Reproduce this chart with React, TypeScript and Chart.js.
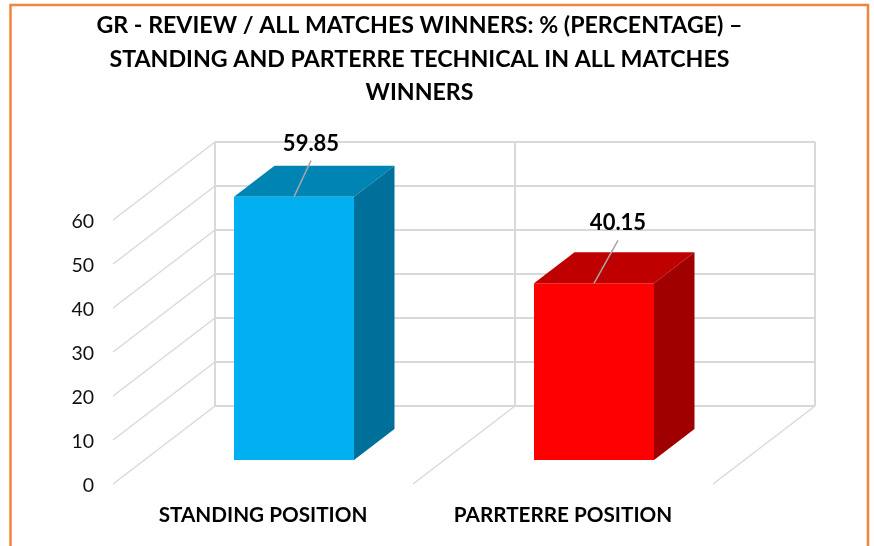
import { useEffect, useRef } from "react";
import { Chart, registerables } from "chart.js";

Chart.register(...registerables);

const titleLines = [
  "GR - REVIEW / ALL MATCHES WINNERS: % (PERCENTAGE) –",
  "STANDING AND PARTERRE TECHNICAL IN ALL MATCHES",
  "WINNERS",
];
const categories = ["STANDING POSITION", "PARRTERRE POSITION"];
const values = [59.85, 40.15];
const axisMin = 0;
const axisMax = 60;
const axisStep = 10;

const frontColors = ["#00B0F0", "#FF0000"];
const topColors = ["#0084B4", "#BF0000"];
const sideColors = ["#00709A", "#A00000"];
const labelOffsets = [
  { dx: 17, dy: -53, lx: 17, ly: -36 },
  { dx: 24, dy: -60, lx: 24, ly: -43 },
];

const FONT = "Lato, 'Open Sans', sans-serif";
const WALL_DX = 102;
const WALL_DY = -78;
const BAR_SHIFT_X = 31;
const BAR_SHIFT_Y = -24;
const BAR_DX = 40.5;
const BAR_DY = -31;
const GRID = "#D9D9D9";

const poly = (ctx: CanvasRenderingContext2D, pts: number[][], fill: string) => {
  ctx.beginPath();
  pts.forEach(([x, y], i) => (i ? ctx.lineTo(x, y) : ctx.moveTo(x, y)));
  ctx.closePath();
  ctx.fillStyle = fill;
  ctx.fill();
};

const line = (ctx: CanvasRenderingContext2D, x1: number, y1: number, x2: number, y2: number) => {
  ctx.beginPath();
  ctx.moveTo(x1, y1);
  ctx.lineTo(x2, y2);
  ctx.stroke();
};

const scene = {
  id: "scene3d",
  afterLayout(chart: any) {
    // centre the native title block over the reference's title position
    if (chart.titleBlock) {
      chart.titleBlock.left = 0;
      chart.titleBlock.right = 839;
    }
  },
  beforeDatasetsDraw(chart: any) {
    const { ctx, chartArea, scales } = chart;
    const { y: ys } = scales;
    ctx.save();
    // frame
    ctx.strokeStyle = "#F4843D";
    ctx.lineWidth = 2.5;
    ctx.strokeRect(10.5, 5, 857.5, 600);

    ctx.strokeStyle = GRID;
    const left = chartArea.left;
    const right = chartArea.right;
    const y0 = ys.getPixelForValue(axisMin);
    const yTop = ys.getPixelForValue(axisMax);
    // side wall and back wall
    ctx.lineWidth = 1.5;
    ys.ticks.forEach((t: any) => {
      const y = ys.getPixelForValue(t.value);
      line(ctx, left, y, left + WALL_DX, y + WALL_DY);
    });
    ctx.lineWidth = 2;
    ys.ticks.forEach((t: any) => {
      const y = ys.getPixelForValue(t.value) + WALL_DY;
      line(ctx, left + WALL_DX, y, right + WALL_DX, y);
    });
    const xEdges = [0, 0.5, 1].map((f) => left + (right - left) * f);
    xEdges.forEach((x) => {
      line(ctx, x + WALL_DX, yTop + WALL_DY, x + WALL_DX, y0 + WALL_DY);
    });
    // floor
    ctx.lineWidth = 1.5;
    xEdges.slice(1).forEach((x) => line(ctx, x, y0, x + WALL_DX, y0 + WALL_DY));

    // top and side faces of each bar
    chart.getDatasetMeta(0).data.forEach((b: any, i: number) => {
      const l = b.x - b.width / 2 + BAR_SHIFT_X;
      const r = b.x + b.width / 2 + BAR_SHIFT_X;
      const t = b.y + BAR_SHIFT_Y;
      const bot = b.base + BAR_SHIFT_Y;
      poly(ctx, [[l, t], [r, t], [r + BAR_DX, t + BAR_DY], [l + BAR_DX, t + BAR_DY]], topColors[i]);
      poly(ctx, [[r, t], [r + BAR_DX, t + BAR_DY], [r + BAR_DX, bot + BAR_DY], [r, bot]], sideColors[i]);
    });
    ctx.restore();
  },
  beforeDatasetDraw(chart: any) {
    chart.ctx.save();
    chart.ctx.translate(BAR_SHIFT_X, BAR_SHIFT_Y);
  },
  afterDatasetDraw(chart: any) {
    chart.ctx.restore();
  },
  afterDatasetsDraw(chart: any) {
    const { ctx } = chart;
    ctx.save();
    chart.getDatasetMeta(0).data.forEach((b: any, i: number) => {
      const cx = b.x + BAR_SHIFT_X;
      const t = b.y + BAR_SHIFT_Y;
      const o = labelOffsets[i];
      ctx.strokeStyle = "#A6A6A6";
      ctx.lineWidth = 1.5;
      line(ctx, cx, t, cx + o.lx, t + o.ly);
      ctx.fillStyle = "#000000";
      ctx.font = `bold 22px ${FONT}`;
      ctx.textAlign = "center";
      ctx.textBaseline = "middle";
      ctx.fillText(values[i].toFixed(2), cx + o.dx, t + o.dy);
    });
    ctx.restore();
  },
};

export default function App() {
  const ref = useRef<HTMLCanvasElement>(null);
  useEffect(() => {
    const chart = new Chart(ref.current!, {
      type: "bar",
      data: {
        labels: categories,
        datasets: [
          {
            data: values,
            backgroundColor: frontColors,
            barPercentage: 0.4,
            categoryPercentage: 1,
            clip: false,
          } as any,
        ],
      },
      plugins: [scene],
      options: {
        responsive: false,
        animation: false,
        layout: { padding: 0 },
        plugins: {
          legend: { display: false },
          tooltip: { enabled: false },
          title: {
            display: true,
            text: titleLines,
            color: "#000000",
            font: { family: FONT, size: 23.2, weight: "bold", lineHeight: 33.5 / 23.2 },
            padding: { top: 9, bottom: 110.5 },
          },
        },
        scales: {
          x: {
            grid: { display: false, drawTicks: false },
            border: { display: false },
            ticks: {
              color: "#000000",
              font: { family: FONT, size: 20.7, weight: "bold" },
              padding: 19,
              autoSkip: false,
              maxRotation: 0,
              minRotation: 0,
            },
            afterFit(s: any) {
              s.height = 62;
              s.paddingLeft = 0;
              s.paddingRight = 0;
            },
          },
          y: {
            min: axisMin,
            max: axisMax,
            grid: { display: false, drawTicks: false },
            border: { display: false },
            ticks: {
              stepSize: axisStep,
              color: "#111111",
              font: { family: FONT, size: 19.5 },
              padding: 19,
              labelOffset: 1.5,
            },
            afterFit(s: any) {
              s.width = 113;
              s.paddingTop = 0;
              s.paddingBottom = 0;
            },
          },
          rightGap: {
            type: "linear",
            position: "right",
            display: true,
            grid: { display: false, drawTicks: false },
            border: { display: false },
            ticks: { display: false },
            afterFit(s: any) {
              s.width = 161;
            },
          } as any,
        },
      } as any,
    });
    return () => chart.destroy();
  }, []);
  return (
    <canvas
      ref={ref}
      width={874}
      height={546}
      style={{ position: "absolute", left: 0, top: 0, display: "block" }}
    />
  );
}
